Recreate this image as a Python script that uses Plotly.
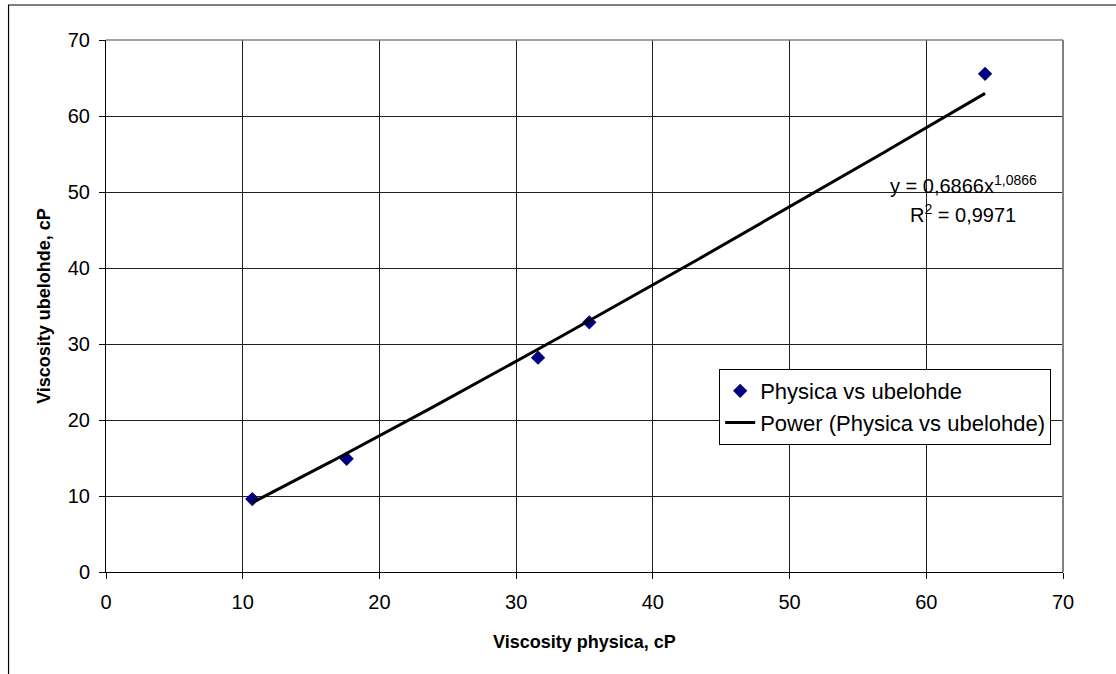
import numpy as np
import plotly.graph_objects as go

# Data
physica = [10.7, 17.6, 31.6, 35.35, 64.3]
ubelohde = [9.6, 14.9, 28.2, 32.85, 65.55]
series_name = "Physica vs ubelohde"
trend_name = "Power (Physica vs ubelohde)"
eq_text = "y = 0,6866x<sup>1,0866</sup>"
r2_text = "R<sup>2</sup> = 0,9971"
x_ticks = [0, 10, 20, 30, 40, 50, 60, 70]
y_ticks = [0, 10, 20, 30, 40, 50, 60, 70]

# Power trendline fitted from the data (least squares in log-log space)
b, ln_a = np.polyfit(np.log(physica), np.log(ubelohde), 1)
a = np.exp(ln_a)
xt = np.linspace(min(physica), max(physica), 200)
yt = a * xt ** b

FONT = "Liberation Sans, Arial, sans-serif"

fig = go.Figure()
fig.add_trace(go.Scatter(
    x=physica, y=ubelohde, mode="markers", name=series_name,
    marker=dict(symbol="diamond", size=11, color="#000080"),
))
fig.add_trace(go.Scatter(
    x=xt, y=yt, mode="lines", name=trend_name,
    line=dict(color="black", width=3),
))

L, R, T, B = 105.5, 53, 40, 102
W, H = 1116, 674
pw, ph = W - L - R, H - T - B

axis_common = dict(
    range=[0, 70], showgrid=True, gridcolor="#202020", gridwidth=1,
    showline=True, linecolor="black", linewidth=1,
    ticks="outside", ticklen=6, tickcolor="black",
    tickfont=dict(family=FONT, size=20, color="black"),
    zeroline=False, fixedrange=True,
)

fig.update_xaxes(**axis_common, tickvals=x_ticks, ticklabelstandoff=6,
                 title=dict(text="<b>Viscosity physica, cP</b>",
                            font=dict(family=FONT, size=18, color="black"),
                            standoff=23))
fig.update_yaxes(**axis_common, tickvals=y_ticks, ticklabelstandoff=5,
                 title=dict(text="<b>Viscosity ubelohde, cP</b>",
                            font=dict(family=FONT, size=18, color="black"),
                            standoff=12))

fig.add_annotation(x=62.7, y=51.0, xref="x", yref="y", text=eq_text,
                   showarrow=False, font=dict(family=FONT, size=20, color="black"))
fig.add_annotation(x=62.7, y=47.2, xref="x", yref="y", text=r2_text,
                   showarrow=False, font=dict(family=FONT, size=20, color="black"))

# plot-area border (top and right, grey)
fig.add_shape(type="line", xref="paper", yref="paper", x0=0, x1=1, y0=1, y1=1,
              line=dict(color="#808080", width=1.5))
fig.add_shape(type="line", xref="paper", yref="paper", x0=1, x1=1, y0=0, y1=1,
              line=dict(color="#808080", width=2))
# outer chart-area border
fig.add_shape(type="rect", xref="paper", yref="paper",
              x0=(8 - L) / pw, x1=1.3, y0=-0.5, y1=(H - B - 5) / ph,
              line=dict(color="black", width=1.2))

fig.update_layout(
    width=W, height=H,
    margin=dict(l=L, r=R, t=T, b=B, pad=0),
    paper_bgcolor="white", plot_bgcolor="white",
    font=dict(family=FONT, color="black"),
    showlegend=True,
    legend=dict(
        x=(719 - L) / pw, y=(H - B - 369) / ph, xanchor="left", yanchor="top",
        bgcolor="white", bordercolor="black", borderwidth=1,
        font=dict(family=FONT, size=22, color="black"),
        tracegroupgap=0, itemsizing="trace",
    ),
)

fig.write_html(
    "out.html",
    config={"displayModeBar": False, "staticPlot": True},
    post_script="document.body.style.margin='0px';document.body.style.overflow='hidden';",
)
